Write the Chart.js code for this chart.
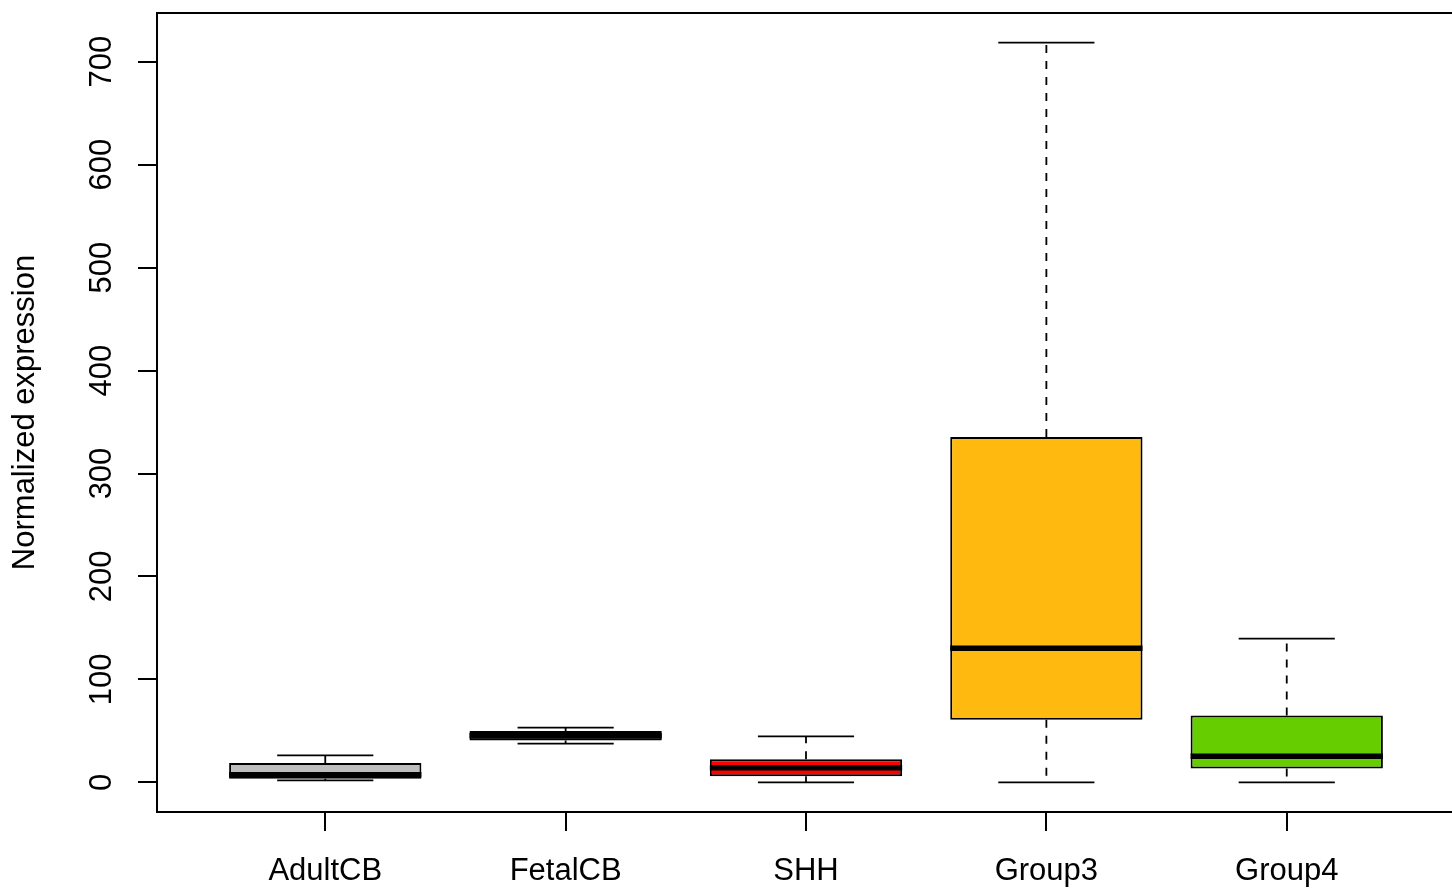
<!DOCTYPE html>
<html>
<head>
<meta charset="utf-8">
<script src="https://cdn.jsdelivr.net/npm/chart.js@4.4.0/dist/chart.umd.min.js"></script>
<style>
html, body { margin: 0; padding: 0; background: #fff; overflow: hidden; }
#wrap { width: 1460px; height: 888px; }
</style>
</head>
<body>
<div id="wrap"><canvas id="boxChart" width="1460" height="888"></canvas></div>
<script>
// groups and five-number summaries
const groups = ['AdultCB', 'FetalCB', 'SHH', 'Group3', 'Group4'];
const positions = [1, 2, 3, 4, 5];
const lowWhisker = [1.9, 37.6, 0, 0, 0];
const q1 = [3.6, 40.8, 6.1, 60.8, 13.6];
const medians = [7.5, 45.4, 14.3, 130.3, 25.3];
const q3 = [18.8, 49.9, 22.4, 335.4, 65.1];
const highWhisker = [26.2, 53.2, 44.7, 718.5, 139.7];
const fills = ['#BEBEBE', '#000000', '#FF0000', '#FFB90F', '#66CD00'];
const yTicks = [0, 100, 200, 300, 400, 500, 600, 700];
const yLabel = 'Normalized expression';

const FONT = "'Liberation Sans', Arial, sans-serif";

// whiskers, staples, medians, frame and y labels
const boxExtras = {
    id: 'boxExtras',
    afterDatasetsDraw(chart) {
        const ctx = chart.ctx;
        const x = chart.scales.x, y = chart.scales.y;
        const unit = x.getPixelForValue(1) - x.getPixelForValue(0);
        ctx.save();
        ctx.strokeStyle = '#000';
        positions.forEach((p, i) => {
            const cx = x.getPixelForValue(p);
            // dashed whiskers
            ctx.lineWidth = 1.8;
            ctx.setLineDash([8, 8]);
            ctx.beginPath();
            ctx.moveTo(cx, y.getPixelForValue(q3[i]));
            ctx.lineTo(cx, y.getPixelForValue(highWhisker[i]));
            ctx.moveTo(cx, y.getPixelForValue(q1[i]));
            ctx.lineTo(cx, y.getPixelForValue(lowWhisker[i]));
            ctx.stroke();
            ctx.setLineDash([]);
            // staples
            ctx.beginPath();
            [highWhisker[i], lowWhisker[i]].forEach(v => {
                const py = y.getPixelForValue(v);
                ctx.moveTo(cx - unit * 0.2, py);
                ctx.lineTo(cx + unit * 0.2, py);
            });
            ctx.stroke();
            // median
            ctx.lineWidth = 5.5;
            ctx.beginPath();
            const my = y.getPixelForValue(medians[i]);
            ctx.moveTo(cx - unit * 0.4, my);
            ctx.lineTo(cx + unit * 0.4, my);
            ctx.stroke();
        });
        ctx.restore();
    },
    afterDraw(chart) {
        const ctx = chart.ctx;
        const a = chart.chartArea;
        const y = chart.scales.y;
        ctx.save();
        ctx.strokeStyle = '#000';
        ctx.lineWidth = 2;
        ctx.strokeRect(a.left, a.top, a.right - a.left, a.bottom - a.top);
        ctx.fillStyle = '#000';
        ctx.font = '31px ' + FONT;
        ctx.textAlign = 'center';
        ctx.textBaseline = 'alphabetic';
        yTicks.forEach(v => {
            ctx.save();
            ctx.translate(111, y.getPixelForValue(v));
            ctx.rotate(-Math.PI / 2);
            ctx.fillText(String(v), 0, 0);
            ctx.restore();
        });
        ctx.save();
        ctx.translate(34, (a.top + a.bottom) / 2);
        ctx.rotate(-Math.PI / 2);
        ctx.fillText(yLabel, 0, 0);
        ctx.restore();
        ctx.restore();
    }
};

const ctx = document.getElementById('boxChart').getContext('2d');
new Chart(ctx, {
    type: 'bar',
    data: {
        datasets: [{
            data: positions.map((p, i) => ({ x: p, y: [q1[i], q3[i]] })),
            backgroundColor: fills,
            borderColor: '#000',
            borderWidth: 2,
            borderSkipped: false,
            categoryPercentage: 0.8,
            barPercentage: 1.0
        }]
    },
    options: {
        responsive: false,
        animation: false,
        layout: { padding: { top: 13, right: 5, left: 0, bottom: 0 } },
        plugins: {
            legend: { display: false },
            tooltip: { enabled: false }
        },
        scales: {
            x: {
                type: 'linear',
                min: 0.3,
                max: 5.7,
                offset: false,
                afterBuildTicks: s => { s.ticks = positions.map(v => ({ value: v })); },
                afterFit: s => { s.height = 76; },
                border: { display: false },
                grid: { offset: false, drawOnChartArea: false, drawTicks: true, tickLength: 19, color: '#000', lineWidth: 2 },
                ticks: {
                    color: '#000',
                    font: { family: FONT, size: 31 },
                    padding: 22,
                    maxRotation: 0,
                    callback: v => groups[v - 1]
                }
            },
            y: {
                type: 'linear',
                min: -28.74,
                max: 747.24,
                afterBuildTicks: s => { s.ticks = yTicks.map(v => ({ value: v })); },
                afterFit: s => { s.width = 157; },
                border: { display: false },
                grid: { drawOnChartArea: false, drawTicks: true, tickLength: 19, color: '#000', lineWidth: 2 },
                ticks: { display: false }
            }
        }
    },
    plugins: [boxExtras]
});
</script>
</body>
</html>
